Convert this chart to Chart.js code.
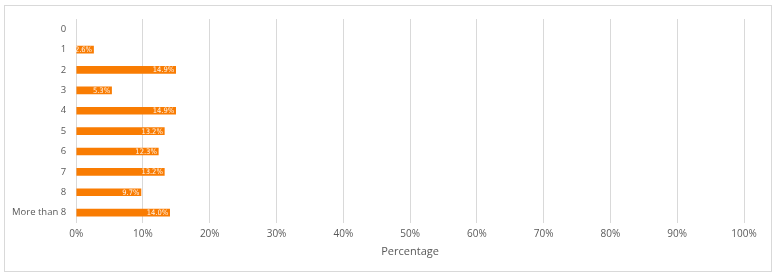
<!DOCTYPE html>
<html>
<head>
<meta charset="utf-8">
<script src="https://cdn.jsdelivr.net/npm/chart.js@4"></script>
<style>
  body { margin: 0; background: #fff; }
  #wrap { position: relative; width: 778px; height: 280px; }
  #frame { position: absolute; left: 4px; top: 5px; width: 768px; height: 267px; border: 1px solid #d9d9d9; box-sizing: border-box; }
  canvas { position: absolute; left: 0; top: 0; }
</style>
</head>
<body>
<div id="wrap">
  <div id="frame"></div>
  <canvas id="chart" width="778" height="280"></canvas>
</div>
<script>
// categories and values
var categories = ["0", "1", "2", "3", "4", "5", "6", "7", "8", "More than 8"];
var percentages = [0, 2.6, 14.9, 5.3, 14.9, 13.2, 12.3, 13.2, 9.7, 14.0];
var tickValues = [0, 10, 20, 30, 40, 50, 60, 70, 80, 90, 100];

var textColor = "#595959";
var barColor = "#f97c02";

// small labels drawn inside the end of each bar
var barLabels = {
    id: "barLabels",
    afterDatasetsDraw: function(chart) {
        var ctx = chart.ctx;
        var meta = chart.getDatasetMeta(0);
        ctx.save();
        ctx.font = "7.5px 'DejaVu Sans Condensed', 'Liberation Sans Narrow', sans-serif";
        ctx.fillStyle = "#fff4ea";
        ctx.textAlign = "right";
        ctx.textBaseline = "middle";
        meta.data.forEach(function(bar, i) {
            var v = percentages[i];
            if (!v) return;
            ctx.fillText(v.toFixed(1) + "%", bar.x - 1.5, bar.y + 0.5);
        });
        ctx.restore();
    }
};

new Chart(document.getElementById("chart").getContext("2d"), {
    type: "bar",
    data: {
        labels: categories,
        datasets: [{
            data: percentages,
            backgroundColor: function(c) { return c.raw ? barColor : "rgba(0,0,0,0)"; },
            borderWidth: 0,
            barThickness: 7
        }]
    },
    options: {
        indexAxis: "y",
        responsive: false,
        animation: false,
        layout: { padding: { left: 2, right: 34, top: 19, bottom: 22 } },
        plugins: { legend: { display: false }, tooltip: { enabled: false } },
        scales: {
            x: {
                min: 0,
                max: 100,
                afterBuildTicks: function(axis) {
                    axis.ticks = tickValues.map(function(v) { return { value: v }; });
                },
                grid: { color: "#d9d9d9", drawTicks: false },
                border: { display: false },
                ticks: {
                    color: textColor,
                    padding: 5,
                    font: { family: "'Open Sans', sans-serif", size: 10 },
                    callback: function(v) { return v + "%"; }
                },
                title: {
                    display: true,
                    text: "Percentage",
                    color: textColor,
                    padding: { top: 0, bottom: 0 },
                    font: { family: "'Open Sans', sans-serif", size: 11 }
                }
            },
            y: {
                grid: { display: false, drawTicks: false },
                border: { display: false },
                ticks: {
                    color: textColor,
                    padding: 10,
                    font: { family: "'Open Sans', sans-serif", size: 9.5 }
                }
            }
        }
    },
    plugins: [barLabels]
});
</script>
</body>
</html>
